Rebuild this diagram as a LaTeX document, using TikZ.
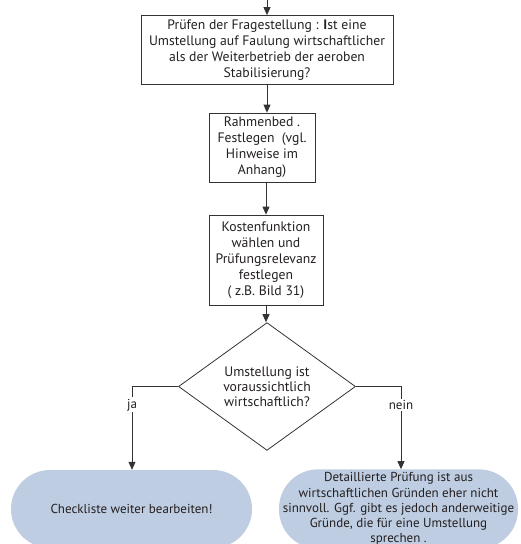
\documentclass[tikz,border=0pt]{standalone}
\usepackage{fontspec}
\setmainfont{PT Sans}
\usetikzlibrary{shapes.geometric,arrows.meta}
\definecolor{ink}{HTML}{231F20}
\definecolor{edge}{HTML}{333333}
\definecolor{termfill}{RGB}{190,205,225}
\tikzset{
  flowbox/.style={draw=edge, line width=0.8pt, rectangle, align=center, inner sep=2pt,
    text=ink, font=\fontsize{13.7}{15.9}\selectfont},
  decision/.style={draw=edge, line width=0.8pt, diamond, inner sep=0pt, align=center,
    text=ink, font=\fontsize{13.7}{15.2}\selectfont},
  terminal/.style={fill=termfill, draw=none, rectangle, rounded corners=39pt, align=center,
    text=ink, font=\fontsize{13}{15.2}\selectfont},
  arr/.style={draw=edge, line width=0.8pt, -{Triangle[length=8pt,width=7pt]}},
  branchlabel/.style={fill=white, inner sep=1.5pt, text=ink, font=\fontsize{13}{15}\selectfont}
}
\begin{document}
\begin{tikzpicture}[x=1pt, y=-1pt]
  \useasboundingbox (0,0) rectangle (520,544);
  \clip (0,0) rectangle (520,544);

  \coordinate (entry) at (267,-2);

  \node[flowbox, minimum width=252pt, minimum height=69pt] (b1) at (267,50)
    {Prüfen der Fragestellung : \textbf{I}st eine\\
     Umstellung auf Faulung wirtschaftlicher\\
     als der Weiterbetrieb der aeroben\\
     Stabilisierung?};

  \node[flowbox, minimum width=106pt, minimum height=69pt] (b2) at (262,147.5)
    {Rahmenbed .\\ Festlegen\ \ (vgl.\\ Hinweise im\\ Anhang)};

  \node[flowbox, minimum width=114pt, minimum height=90pt] (b3) at (266,260)
    {Kostenfunktion\\ wählen und\\ Prüfungsrelevanz\\ festlegen\\ ( z.B. Bild 31)};

  \node[decision, minimum width=177pt, minimum height=99pt] (d) at (267,386.5)
    {Umstellung ist\\ voraussichtlich\\ wirtschaftlich?};

  \node[terminal, minimum width=241pt, minimum height=78pt] (yes) at (131.5,509)
    {Checkliste weiter bearbeiten!};

  \node[terminal, minimum width=239pt, minimum height=78pt] (no) at (398.5,509)
    {Detaillierte Prüfung ist aus\\
     wirtschaftlichen Gründen eher nicht\\
     sinnvoll. Ggf. gibt es jedoch anderweitige\\
     Gründe, die für eine Umstellung\\
     sprechen .};

  \coordinate (yesturn) at (132,386.5);
  \coordinate (noturn) at (401,386.5);

  \draw[arr] (entry) -- (b1.north);
  \draw[arr] (b1.south) -- (b1.south |- b2.north);
  \draw[arr] (b3.north |- b2.south) -- (b3.north);
  \draw[arr] (b3.south) -- (b3.south |- d.north);
  \draw[arr] (d.west) -- (yesturn) -- (yesturn |- yes.north)
    node[branchlabel, pos=0.22] {ja};
  \draw[arr] (d.east) -- (noturn) -- (noturn |- no.north)
    node[branchlabel, pos=0.22] {nein};
\end{tikzpicture}
\end{document}
